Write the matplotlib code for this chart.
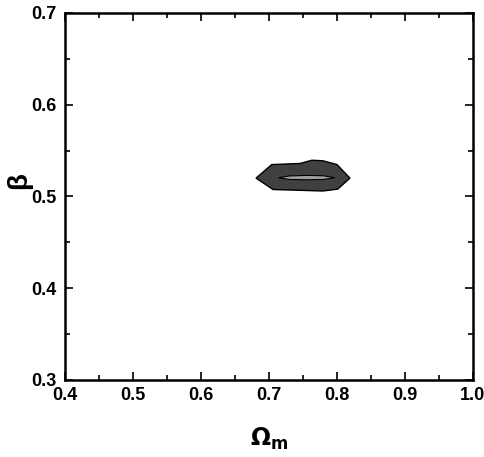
import matplotlib
matplotlib.use("Agg")
import matplotlib.pyplot as plt
from matplotlib.ticker import MultipleLocator

plt.rcParams['font.family'] = ['Liberation Sans Narrow', 'Liberation Sans', 'DejaVu Sans']
plt.rcParams['font.weight'] = 'bold'
plt.rcParams['mathtext.fontset'] = 'custom'
plt.rcParams['mathtext.rm'] = 'Liberation Sans Narrow:bold'
plt.rcParams['mathtext.bf'] = 'Liberation Sans Narrow:bold'
plt.rcParams['mathtext.it'] = 'Liberation Sans Narrow:bold'

# outer (2 sigma) contour
outer_om = [0.681, 0.704, 0.746, 0.763, 0.779, 0.800, 0.819, 0.801, 0.779, 0.706]
outer_beta = [0.520, 0.5348, 0.536, 0.5395, 0.539, 0.5348, 0.520, 0.508, 0.506, 0.5076]

# inner (1 sigma) contour
inner_om = [0.714, 0.730, 0.755, 0.780, 0.797, 0.780, 0.755, 0.730]
inner_beta = [0.5205, 0.5224, 0.5230, 0.5226, 0.5205, 0.5186, 0.5182, 0.5186]

fig = plt.figure(figsize=(4.85, 4.57), dpi=100)
ax = fig.add_axes([65/485, 1 - 380/457, 408/485, 367/457])

ax.fill(outer_om, outer_beta, facecolor='#404040', edgecolor='black', linewidth=1.0)
ax.fill(inner_om, inner_beta, facecolor='#a0a0a0', edgecolor='black', linewidth=0.8)

ax.set_xlim(0.4, 1.0)
ax.set_ylim(0.3, 0.7)
ax.xaxis.set_major_locator(MultipleLocator(0.1))
ax.xaxis.set_minor_locator(MultipleLocator(0.05))
ax.yaxis.set_major_locator(MultipleLocator(0.1))
ax.yaxis.set_minor_locator(MultipleLocator(0.05))
ax.tick_params(which='both', direction='in', top=True, right=True, width=1.2,
               labelsize=13)
ax.tick_params(axis='x', pad=5)
ax.tick_params(axis='y', pad=6)
ax.tick_params(which='major', length=6)
ax.tick_params(which='minor', length=3.5)
for s in ax.spines.values():
    s.set_linewidth(1.8)

ax.set_xlabel(r'$\Omega_{m}$', fontsize=17, labelpad=16)
fig.text(19/485, 1 - 181/457, 'β', fontsize=20, rotation=90, ha='center', va='center')

fig.savefig("out.png", dpi=100)
